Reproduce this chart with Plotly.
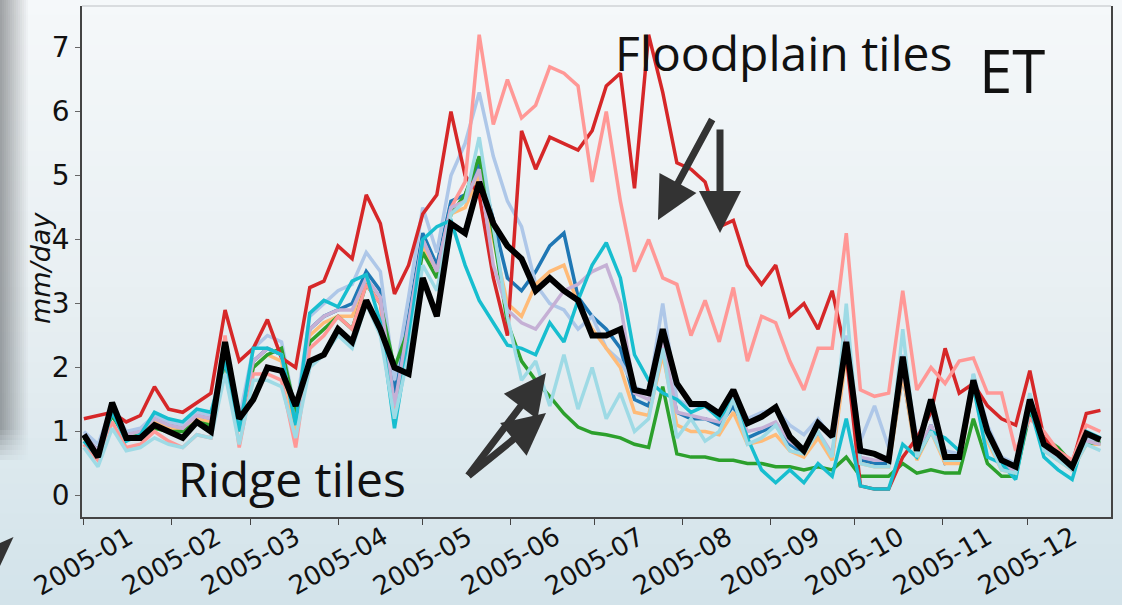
import pandas as pd
import plotly.graph_objects as go

# ---------------- data (mm/day, read every 5 days) ----------------
dates = pd.date_range("2005-01-01", periods=73, freq="5D")

month_ticks = pd.date_range("2005-01-01", periods=12, freq="MS")
month_labels = ["2005-01", "2005-02", "2005-03", "2005-04", "2005-05", "2005-06",
                "2005-07", "2005-08", "2005-09", "2005-10", "2005-11", "2005-12"]
y_ticks = [0, 1, 2, 3, 4, 5, 6, 7]

tile_blue = [0.95,0.7,1.35,0.95,1.0,1.2,1.1,1.05,1.25,1.2,
             2.2,1.1,2.1,2.3,2.2,1.2,2.6,2.8,2.9,3.0,
             3.5,3.2,1.6,2.8,4.1,3.6,4.6,4.7,5.2,4.3,
             3.4,3.2,3.5,3.9,4.1,3.1,2.8,2.6,2.3,1.5,
             1.4,2.3,1.3,1.2,1.2,1.1,1.4,0.9,1.0,1.1,
             0.8,0.65,0.95,0.6,2.3,0.55,0.5,0.5,1.9,0.6,
             1.1,0.5,0.55,1.7,0.9,0.45,0.4,1.4,0.75,0.6,
             0.4,0.85,0.8]
tile_lightblue = [1.0,0.8,1.4,1.0,1.05,1.25,1.15,1.1,1.3,1.25,
                  2.3,1.2,2.3,2.5,2.4,1.3,2.8,3.0,3.2,3.3,
                  3.8,3.5,1.8,3.1,4.5,3.8,5.0,5.5,6.3,5.3,
                  4.6,4.2,3.3,3.0,2.9,2.6,2.8,2.3,2.1,1.7,
                  1.6,3.0,1.5,1.4,1.4,1.3,1.6,1.2,1.3,1.35,
                  1.1,0.95,1.2,0.9,2.5,0.85,1.4,0.75,2.2,0.9,
                  1.3,0.7,0.65,1.9,1.1,0.6,0.5,1.5,0.85,0.7,
                  0.5,0.9,0.85]
tile_orange = [0.9,0.65,1.3,0.9,0.95,1.15,1.05,1.0,1.2,1.15,
               2.1,1.0,2.0,2.2,2.1,1.0,2.5,2.7,2.8,2.8,
               3.3,3.0,1.3,2.6,3.9,3.4,4.4,4.5,5.0,4.0,
               3.0,2.8,3.3,3.5,3.6,3.0,2.6,2.3,2.0,1.3,
               1.25,2.2,1.1,1.0,1.0,0.95,1.3,0.8,0.85,0.95,
               0.7,0.6,0.9,0.55,2.2,0.5,0.45,0.45,1.9,0.55,
               1.0,0.5,0.5,1.7,0.85,0.4,0.35,1.4,0.7,0.55,
               0.4,0.8,0.8]
tile_green = [0.9,0.7,1.25,0.9,0.95,1.05,1.0,1.0,1.15,1.1,
              2.1,1.1,2.0,2.2,2.3,1.3,2.4,2.6,2.8,2.6,
              3.3,3.0,2.0,2.6,3.8,3.4,4.4,4.7,5.3,4.1,
              2.7,2.1,1.8,1.55,1.28,1.07,0.98,0.95,0.9,0.8,
              0.75,1.7,0.65,0.6,0.6,0.55,0.55,0.5,0.5,0.45,
              0.45,0.4,0.45,0.4,0.6,0.3,0.3,0.3,0.5,0.35,
              0.4,0.35,0.35,1.2,0.5,0.3,0.3,1.3,0.9,0.75,
              0.5,0.8,0.85]
tile_red = [1.2,1.25,1.3,1.15,1.25,1.7,1.35,1.3,1.45,1.6,
            2.9,2.1,2.3,2.75,2.15,2.0,3.25,3.35,3.9,3.7,
            4.7,4.25,3.15,3.6,4.4,4.7,6.0,5.0,4.7,3.4,
            2.5,5.7,5.1,5.6,5.5,5.4,5.7,6.4,6.6,4.8,
            7.2,6.3,5.2,5.1,4.9,4.2,4.3,3.6,3.3,3.6,
            2.8,3.0,2.6,3.2,2.2,0.15,0.1,0.1,0.6,0.9,
            1.3,2.3,1.6,1.75,1.4,1.2,1.1,1.95,0.9,0.7,
            0.5,1.28,1.33]
tile_pink = [0.8,0.55,1.15,0.75,0.8,1.0,0.85,0.75,0.95,0.9,
             2.5,0.75,1.9,1.9,1.8,0.75,2.3,2.5,2.8,2.6,
             3.3,3.0,1.3,2.5,4.0,3.5,4.5,4.9,7.2,5.8,
             6.5,5.9,6.1,6.7,6.6,6.4,4.9,6.0,4.6,3.5,
             4.0,3.4,3.3,2.5,3.05,2.4,3.25,2.1,2.8,2.7,
             2.1,1.65,2.3,2.3,4.1,1.65,1.55,1.6,3.2,1.65,
             2.0,1.75,2.1,2.15,1.6,1.6,0.7,1.2,1.0,0.7,
             0.55,1.1,1.0]
tile_purple = [0.95,0.7,1.3,0.95,1.0,1.2,1.1,1.05,1.25,1.2,
               2.2,1.1,2.1,2.3,2.2,1.1,2.6,2.8,2.9,2.9,
               3.4,3.1,1.4,2.7,4.0,3.5,4.5,4.6,5.1,3.6,
               2.9,2.7,2.6,2.9,3.2,3.3,3.5,3.6,3.0,1.6,
               1.5,2.4,1.3,1.25,1.2,1.15,1.5,1.0,1.05,1.15,
               0.85,0.7,1.0,0.65,2.4,0.6,0.55,0.55,2.0,0.65,
               1.1,0.55,0.6,1.8,0.95,0.45,0.4,1.45,0.75,0.6,
               0.45,0.85,0.8]
tile_cyan = [0.85,0.6,1.3,0.85,0.95,1.3,1.2,1.15,1.35,1.3,
             2.1,1.0,2.3,2.3,2.2,1.1,2.85,3.05,2.95,3.35,
             3.45,2.7,1.05,2.4,4.0,4.2,4.3,3.6,3.05,2.7,
             2.35,2.3,2.2,2.7,2.4,3.05,3.6,3.95,3.4,2.2,
             1.8,1.6,1.5,1.3,1.4,1.2,1.5,0.9,0.4,0.2,
             0.4,0.2,0.5,0.3,1.2,0.15,0.1,0.1,0.8,0.6,
             1.0,0.9,0.7,1.7,0.6,0.5,0.25,1.4,0.6,0.4,
             0.25,1.0,0.9]
tile_lightcyan = [0.75,0.45,1.05,0.7,0.75,0.9,0.8,0.75,0.95,0.9,
                  1.9,0.8,1.8,1.8,1.7,0.9,2.0,2.2,2.5,2.3,
                  3.0,2.5,1.2,2.2,3.6,3.2,4.4,4.6,5.6,4.2,
                  2.8,1.8,2.1,1.4,2.2,1.35,2.0,1.2,1.6,1.0,
                  1.2,2.3,0.9,1.2,0.85,1.0,1.5,0.8,0.9,1.1,
                  0.7,0.65,1.0,0.6,3.0,0.5,0.45,0.45,2.6,0.6,
                  1.0,0.55,0.55,1.9,0.9,0.4,0.35,1.6,0.7,0.55,
                  0.4,0.8,0.7]
tile_mean = [0.95,0.6,1.45,0.9,0.9,1.1,1.0,0.9,1.15,1.0,
             2.4,1.2,1.5,2.0,1.95,1.4,2.1,2.2,2.6,2.4,
             3.05,2.6,2.0,1.9,3.4,2.8,4.25,4.1,4.9,4.25,
             3.9,3.7,3.2,3.4,3.2,3.05,2.5,2.5,2.6,1.65,
             1.6,2.6,1.75,1.43,1.43,1.28,1.65,1.13,1.23,1.38,
             0.92,0.7,1.13,0.92,2.4,0.7,0.65,0.55,2.17,0.7,
             1.5,0.6,0.6,1.8,1.0,0.55,0.45,1.5,0.8,0.65,
             0.45,0.97,0.87]

series = [
    (tile_blue, "#1f77b4"),
    (tile_lightblue, "#aec7e8"),
    (tile_orange, "#ffbb78"),
    (tile_green, "#2ca02c"),
    (tile_red, "#d62728"),
    (tile_pink, "#ff9896"),
    (tile_purple, "#c5b0d5"),
    (tile_cyan, "#17becf"),
    (tile_lightcyan, "#9edae5"),
]

# ---------------- geometry ----------------
W, H = 1122, 605
L, R, T, B = 82, 11, 6, 88
PW, PH = W - L - R, H - T - B


def px(x):
    return (x - L) / PW


def py(y):
    return (H - B - y) / PH


fig = go.Figure()
for vals, col in series:
    fig.add_trace(go.Scatter(x=dates, y=vals, mode="lines",
                             line=dict(color=col, width=3.5), hoverinfo="skip"))
fig.add_trace(go.Scatter(x=dates, y=tile_mean, mode="lines",
                         line=dict(color="#000000", width=6), hoverinfo="skip"))

shapes = []
# slide background gradient
stops = [(0, (245, 248, 250)), (300, (232, 239, 242)), (605, (210, 227, 234))]


def bg(yp):
    for (y0, c0), (y1, c1) in zip(stops[:-1], stops[1:]):
        if y0 <= yp <= y1:
            t = (yp - y0) / (y1 - y0)
            return tuple(round(a + (b - a) * t) for a, b in zip(c0, c1))
    return stops[-1][1]


nb = 40
for i in range(nb):
    y0, y1 = i * H / nb, (i + 1) * H / nb
    c = bg((y0 + y1) / 2)
    shapes.append(dict(type="rect", xref="paper", yref="paper", layer="below",
                       x0=px(0), x1=px(W), y0=py(y1 + 0.5), y1=py(y0 - 0.5),
                       line=dict(width=0), fillcolor="rgb(%d,%d,%d)" % c))
# left decorative grey bar (fading sideways and at the bottom)
for i in range(14):
    x0 = i * 2
    op = 0.55 * (1 - i / 14)
    shapes.append(dict(type="rect", xref="paper", yref="paper", layer="below",
                       x0=px(x0), x1=px(x0 + 2), y0=py(430), y1=py(0),
                       line=dict(width=0), fillcolor="rgba(90,93,96,%.3f)" % op))
    for k in range(6):
        yb = 430 + k * 5
        shapes.append(dict(type="rect", xref="paper", yref="paper", layer="below",
                           x0=px(x0), x1=px(x0 + 2), y0=py(yb + 5), y1=py(yb),
                           line=dict(width=0),
                           fillcolor="rgba(90,93,96,%.3f)" % (op * (1 - (k + 1) / 7))))
# bottom-left arrow head decoration
shapes.append(dict(type="path", xref="paper", yref="paper",
                   path="M %f %f L %f %f L %f %f Z" % (px(0), py(543), px(13.5), py(537), px(0), py(566)),
                   fillcolor="#333333", line=dict(width=0)))
# top spine (light)
shapes.append(dict(type="line", xref="paper", yref="paper", x0=0, x1=1, y0=1, y1=1,
                   line=dict(color="#cfd3d6", width=1.5)))

annotations = []
for d, lab in zip(month_ticks, month_labels):
    annotations.append(dict(x=d, xref="x", y=py(561), yref="paper",
                            xanchor="center", yanchor="middle",
                            text=lab, showarrow=False, textangle=-30,
                            font=dict(family="DejaVu Sans", size=26, color="#111111")))
annotations.append(dict(x=px(40), y=py(268), xref="paper", yref="paper", text="mm/day",
                        showarrow=False, textangle=-90, xanchor="center", yanchor="middle",
                        font=dict(family="DejaVu Sans", size=27, color="#111111", style="italic")))
annotations.append(dict(x=px(613), y=py(52), xref="paper", yref="paper", text="Floodplain tiles",
                        showarrow=False, xanchor="left", yanchor="middle",
                        font=dict(family="Open Sans", size=48, color="#111111")))
annotations.append(dict(x=px(1012), y=py(70), xref="paper", yref="paper", text="ET",
                        showarrow=False, xanchor="center", yanchor="middle",
                        font=dict(family="Open Sans", size=60, color="#111111")))
annotations.append(dict(x=px(176), y=py(478), xref="paper", yref="paper", text="Ridge tiles",
                        showarrow=False, xanchor="left", yanchor="middle",
                        font=dict(family="Open Sans", size=48, color="#111111")))
arrows = [((658, 220), (55, -102)), ((720, 233), (0, -105)),
          ((546, 373), (-79, 104)), ((546, 413), (-79, 64))]
for (tx, ty), (ax, ay) in arrows:
    annotations.append(dict(x=px(tx), y=py(ty), xref="paper", yref="paper", text="",
                            showarrow=True, ax=ax, ay=ay, arrowhead=2, arrowsize=1.2,
                            arrowwidth=7, arrowcolor="#333333", standoff=0))

fig.update_layout(
    width=W, height=H,
    margin=dict(l=L, r=R, t=T, b=B),
    paper_bgcolor="rgba(0,0,0,0)",
    plot_bgcolor="rgba(0,0,0,0)",
    showlegend=False,
    shapes=shapes,
    annotations=annotations,
    xaxis=dict(type="date", range=["2004-12-31 08:00", "2005-12-30 18:00"],
               tickvals=month_ticks, showticklabels=False,
               ticks="outside", ticklen=6, tickcolor="#444444",
               showgrid=False, zeroline=False, showline=True,
               linecolor="#444444", linewidth=1.5),
    yaxis=dict(range=[-0.336, 7.65], tickvals=y_ticks,
               ticks="outside", ticklen=5, tickcolor="#666666",
               tickfont=dict(family="DejaVu Sans", size=28, color="#111111"),
               showgrid=False, zeroline=False, showline=True, mirror=True,
               linecolor="#444444", linewidth=1.5),
)

fig.write_html("out.html")
